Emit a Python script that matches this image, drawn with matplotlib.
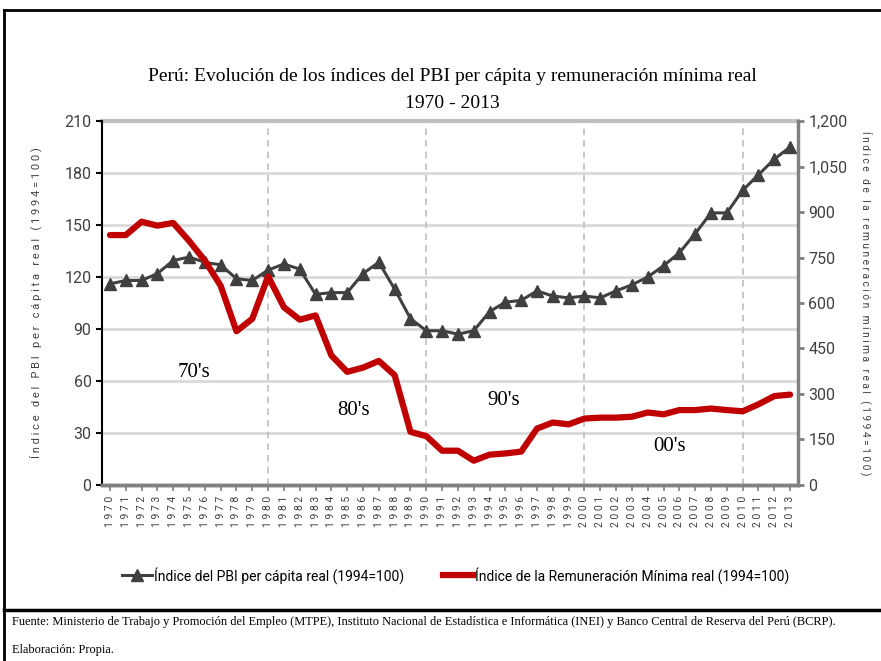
import numpy as np
import matplotlib.pyplot as plt
from matplotlib.lines import Line2D
from matplotlib.ticker import FuncFormatter

# datos
anios = list(range(1970, 2014))
pbi_pc = [116, 118, 118, 122, 129.5, 131.5, 128.5, 127, 119, 118,
          124, 127.5, 124.5, 110, 111, 111, 122, 128.5, 113, 96,
          89, 89, 87, 89, 100, 105.5, 106.5, 112, 109, 108,
          109, 108, 112, 115.5, 120, 126.5, 134, 145, 157, 157,
          170, 179, 188, 195]
rem_min = [824, 824, 868, 855, 864, 805, 740, 657, 507, 548,
           688, 586, 545, 559, 427, 373, 387, 409, 362, 175,
           161, 113, 113, 80, 100, 104, 110, 186, 206, 200,
           219, 222, 222, 225, 239, 233, 247, 247, 252, 247,
           243, 266, 293, 298]
decadas = ["70's", "80's", "90's", "00's"]
dec_x = [1975.3, 1985.4, 1994.9, 2005.4]
dec_y = [65, 43, 49, 22]

serif = ['Liberation Serif', 'DejaVu Serif']
narrow = ['Roboto', 'DejaVu Sans']

def espaciar(s):
    return ' '.join(s)

fig = plt.figure(figsize=(8.81, 6.61), dpi=100)
ax = fig.add_axes([0.1158, 0.2663, 0.79, 0.5506])
ax2 = ax.twinx()

ax.set_xlim(1969.5, 2013.5)
ax.set_ylim(0, 210)
ax2.set_ylim(0, 1200)
ax.set_yticks(np.arange(0, 211, 30))
ax2.set_yticks(np.arange(0, 1201, 150))
ax2.yaxis.set_major_formatter(FuncFormatter(lambda v, p: f"{int(v):,}"))

for v in np.arange(30, 211, 30):
    ax.axhline(v, color='#d9d9d9', lw=2, zorder=0)
for d in [1980, 1990, 2000, 2010]:
    ax.axvline(d, color='#bfbfbf', lw=1.2, ls=(0, (4, 3)), zorder=0)

ax.plot(anios, pbi_pc, color='#404040', lw=2.2, marker='^', ms=8, zorder=3)
ax2.plot(anios, rem_min, color='#c00000', lw=4.5, solid_capstyle='round', zorder=3)

for t, x, y in zip(decadas, dec_x, dec_y):
    ax.text(x, y, t, family=serif, fontsize=15, ha='center', va='center')

ax.set_xticks(anios)
ax.set_xticklabels([espaciar(str(a)) for a in anios], rotation=90, family=narrow,
                   fontsize=7.5, color='#404040')
ax.tick_params(axis='x', length=4, color='#808080', width=1.2, pad=4)
ax.tick_params(axis='y', length=4, color='black', width=1.5, labelsize=11.5,
               labelcolor='#404040')
ax2.tick_params(axis='y', length=4, color='#808080', width=2, labelsize=11.5,
                labelcolor='#404040')
for lb in ax.get_yticklabels() + ax2.get_yticklabels():
    lb.set_family(narrow)

for a in (ax, ax2):
    a.spines['top'].set_visible(False)
    a.spines['bottom'].set_color('#808080')
    a.spines['bottom'].set_linewidth(2.5)
ax.spines['left'].set_color('black')
ax.spines['left'].set_linewidth(1.5)
ax2.spines['right'].set_color('#808080')
ax2.spines['right'].set_linewidth(2.5)
ax2.spines['left'].set_visible(False)
ax.axhline(210, color='#c0c0c0', lw=3, zorder=1, clip_on=False)

ax.set_ylabel(espaciar('Índice del PBI per cápita real (1994=100)'), family=narrow,
              fontsize=8, color='#404040', labelpad=16)
ax2.set_ylabel(espaciar('Índice de la remuneración mínima real (1994=100)'), family=narrow,
               fontsize=7.3, color='#404040', rotation=270, labelpad=18)

fig.text(0.513, 0.885, 'Perú: Evolución de los índices del PBI per cápita y remuneración mínima real',
         family=serif, fontsize=14, ha='center', va='center')
fig.text(0.513, 0.843, '1970 - 2013', family=serif, fontsize=14, ha='center', va='center')

h1 = Line2D([], [], color='#404040', lw=2.2, marker='^', ms=8)
h2 = Line2D([], [], color='#c00000', lw=4.5)
fig.legend([h1, h2], ['Índice del PBI per cápita real (1994=100)',
                      'Índice de la Remuneración Mínima real (1994=100)'],
           loc='center', bbox_to_anchor=(0.517, 0.13), ncol=2, frameon=False,
           prop={'family': narrow, 'size': 10}, handlelength=2.2,
           handletextpad=0.1, columnspacing=2.8)

# marco
fig.add_artist(Line2D([4/881, 4/881], [0, 1 - 10/661], color='black', lw=2))
fig.add_artist(Line2D([4/881, 1], [1 - 10/661, 1 - 10/661], color='black', lw=2))
fig.add_artist(Line2D([4/881, 1], [1 - 610/661, 1 - 610/661], color='black', lw=2.5))

fig.text(12/881, 1 - 622/661, 'Fuente: Ministerio de Trabajo y Promoción del Empleo (MTPE), Instituto Nacional de '
         'Estadística e Informática (INEI) y Banco Central de Reserva del Perú (BCRP).',
         family=serif, fontsize=8.9, ha='left', va='center')
fig.text(12/881, 1 - 650/661, 'Elaboración: Propia.', family=serif, fontsize=8.9,
         ha='left', va='center')

fig.savefig('out.png', dpi=100)
